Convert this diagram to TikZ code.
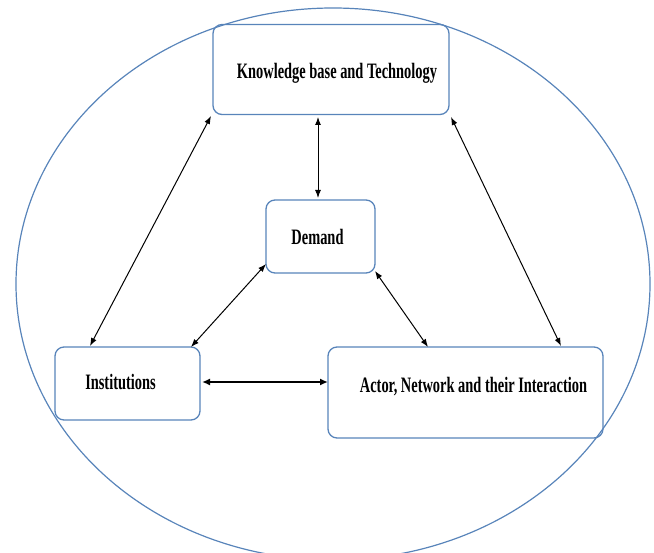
\documentclass[tikz,border=0pt]{standalone}
\usepackage{fontspec}
\setmainfont{Liberation Serif}
\usetikzlibrary{arrows.meta}
\definecolor{boxblue}{RGB}{88,132,186}
\newcommand{\cond}[1]{\scalebox{0.655}[1]{#1}}
\begin{document}
\begin{tikzpicture}[x=1pt,y=-1pt,
  blk/.style={draw=boxblue,line width=1.3pt,rounded corners=9pt,inner sep=0pt},
  lbl/.style={font=\fontsize{22}{24}\selectfont\bfseries,inner sep=0pt},
  conn/.style={black,line width=1pt,{Latex[length=8pt,width=6pt]}-{Latex[length=8pt,width=6pt]}},
  connb/.style={black,line width=2pt,{Latex[length=8pt,width=7pt]}-{Latex[length=8pt,width=7pt]}}]
\useasboundingbox (0,0) rectangle (654,553);
\draw[boxblue,line width=1.2pt] (333,284) ellipse [x radius=317,y radius=276];
% boxes
\node[blk,minimum width=236pt,minimum height=90pt] (kb) at (331,69.5) {};
\node[blk,minimum width=109pt,minimum height=73pt] (dm) at (320.5,236.5) {};
\node[blk,minimum width=145pt,minimum height=73pt] (in) at (127.5,383.5) {};
\node[blk,minimum width=275pt,minimum height=91pt] (ac) at (465.5,392.5) {};
% labels
\node[lbl] (kbt) at (337,73) {\cond{Knowledge base and Technology}};
\node[lbl] (dmt) at (317.5,237) {\cond{Demand}};
\node[lbl] (int) at (120.5,382) {\cond{Institutions}};
\node[lbl] (act) at (473.5,387) {\cond{Actor, Network and their Interaction}};
% connectors
\coordinate (a1) at (318,117); \coordinate (a2) at (318,198);
\draw[conn] (a1) -- (a2);
\coordinate (b1) at (211,116); \coordinate (b2) at (90,346);
\draw[conn] (b1) -- (b2);
\coordinate (c1) at (451,117); \coordinate (c2) at (561,346);
\draw[conn] (c1) -- (c2);
\coordinate (d1) at (266,264); \coordinate (d2) at (191,347);
\draw[conn] (d1) -- (d2);
\coordinate (e1) at (375,271); \coordinate (e2) at (428,347);
\draw[conn] (e1) -- (e2);
\coordinate (f1) at (202,382); \coordinate (f2) at (328,382);
\draw[connb] (f1) -- (f2);
\end{tikzpicture}
\end{document}
